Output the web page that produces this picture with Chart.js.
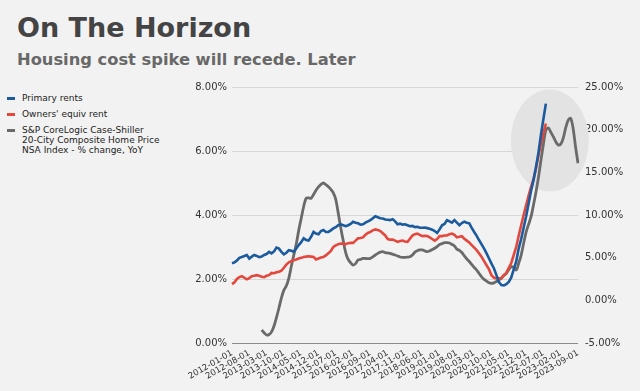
<!DOCTYPE html>
<html>
<head>
<meta charset="utf-8">
<script src="https://cdn.jsdelivr.net/npm/chart.js@4/dist/chart.umd.min.js"></script>
<style>
  html, body { margin: 0; padding: 0; background: #f2f2f2; }
  body { width: 640px; height: 391px; position: relative; overflow: hidden; font-family: 'DejaVu Sans', Verdana, sans-serif; }
  #title { position: absolute; left: 17px; top: 14px; font-size: 27px; line-height: 27px; font-weight: bold; color: #444; white-space: nowrap; }
  #subtitle { position: absolute; left: 17px; top: 52px; font-size: 16.3px; line-height: 16.3px; font-weight: bold; color: #686868; white-space: nowrap; }
  #legend { position: absolute; left: 0; top: 0; }
  .item { position: absolute; left: 22px; font-size: 9px; line-height: 10px; color: #222; white-space: nowrap; }
  .mark { position: absolute; left: 7px; width: 8px; height: 3px; }
  #myChart { position: absolute; left: 0; top: 0; }
</style>
</head>
<body>
<div id="title">On The Horizon</div>
<div id="subtitle">Housing cost spike will recede. Later</div>
<div id="legend"></div>
<canvas id="myChart" width="640" height="391"></canvas>
<script>
// Tháng: 2012-01 .. 2023-09
const months = [];
for (let y = 2012; y <= 2023; y++) {
    for (let m = 1; m <= 12; m++) {
        if (y === 2023 && m > 9) break;
        months.push(y + '-' + String(m).padStart(2, '0') + '-01');
    }
}

// Primary rents (trục trái, %), 2012-01 .. 2022-08
const primaryRents = [
    2.49, 2.52, 2.58, 2.66, 2.69, 2.72, 2.75, 2.64, 2.70, 2.75, 2.72, 2.68,
    2.70, 2.75, 2.78, 2.85, 2.80, 2.86, 2.98, 2.95, 2.85, 2.77, 2.82, 2.90,
    2.88, 2.85, 2.95, 3.06, 3.15, 3.27, 3.22, 3.20, 3.32, 3.47, 3.42, 3.40,
    3.50, 3.53, 3.47, 3.47, 3.52, 3.58, 3.62, 3.68, 3.71, 3.68, 3.65, 3.68,
    3.72, 3.79, 3.76, 3.74, 3.70, 3.71, 3.76, 3.80, 3.84, 3.90, 3.96, 3.93,
    3.90, 3.89, 3.86, 3.85, 3.84, 3.87, 3.80, 3.71, 3.73, 3.70, 3.71, 3.68,
    3.65, 3.66, 3.62, 3.63, 3.60, 3.60, 3.61, 3.59, 3.57, 3.54, 3.50, 3.44,
    3.55, 3.68, 3.72, 3.84, 3.80, 3.76, 3.84, 3.76, 3.68, 3.75, 3.79, 3.76,
    3.74, 3.60, 3.47, 3.35, 3.21, 3.08, 2.95, 2.80, 2.64, 2.48, 2.33, 2.12,
    1.90, 1.81, 1.80, 1.84, 1.91, 2.05, 2.30, 2.55, 2.95, 3.25, 3.60, 3.95,
    4.35, 4.75, 5.09, 5.50, 5.95, 6.50, 7.00, 7.48
];

// Owners' equiv rent (trục trái, %)
const ownersRent = [
    1.84, 1.90, 2.00, 2.06, 2.09, 2.04, 1.99, 2.03, 2.09, 2.10, 2.12, 2.10,
    2.07, 2.06, 2.10, 2.12, 2.19, 2.18, 2.21, 2.23, 2.26, 2.35, 2.45, 2.52,
    2.56, 2.59, 2.61, 2.64, 2.66, 2.69, 2.70, 2.71, 2.70, 2.69, 2.61, 2.64,
    2.67, 2.69, 2.74, 2.80, 2.88, 3.00, 3.05, 3.09, 3.11, 3.10, 3.09, 3.12,
    3.13, 3.13, 3.20, 3.27, 3.28, 3.30, 3.38, 3.44, 3.47, 3.52, 3.55, 3.53,
    3.50, 3.43, 3.36, 3.25, 3.23, 3.23, 3.20, 3.16, 3.19, 3.20, 3.17, 3.16,
    3.26, 3.36, 3.40, 3.42, 3.38, 3.34, 3.35, 3.34, 3.30, 3.25, 3.20, 3.25,
    3.34, 3.34, 3.36, 3.36, 3.40, 3.42, 3.38, 3.30, 3.32, 3.34, 3.26, 3.20,
    3.14, 3.06, 2.98, 2.90, 2.80, 2.69, 2.56, 2.43, 2.30, 2.12, 2.04, 2.02,
    2.02, 2.03, 2.12, 2.19, 2.35, 2.50, 2.75, 3.00, 3.35, 3.68, 4.00, 4.30,
    4.60, 4.88, 5.12, 5.45, 5.85, 6.23, 6.55, 6.86
];

// Case-Shiller YoY (trục phải, %), bắt đầu từ 2013-01
const caseShillerStart = 12;
const caseShiller = [
    -3.48, -3.80, -4.06, -4.00, -3.70, -3.00, -2.00, -0.90, 0.30, 1.20, 1.70, 2.60,
    4.00, 5.30, 6.60, 8.20, 9.60, 11.00, 11.96, 12.00, 11.95, 12.40, 12.90, 13.30,
    13.60, 13.75, 13.55, 13.30, 13.00, 12.60, 11.80, 10.20, 8.50, 7.00, 5.60, 4.80,
    4.40, 4.14, 4.30, 4.73, 4.80, 4.92, 4.90, 4.88, 4.92, 5.10, 5.31, 5.50,
    5.65, 5.70, 5.60, 5.55, 5.50, 5.40, 5.31, 5.20, 5.08, 5.04, 5.04, 5.06,
    5.10, 5.30, 5.65, 5.82, 5.90, 5.90, 5.80, 5.70, 5.80, 5.95, 6.10, 6.30,
    6.55, 6.65, 6.75, 6.77, 6.72, 6.55, 6.38, 6.00, 5.85, 5.60, 5.20, 4.85,
    4.55, 4.20, 3.85, 3.55, 3.15, 2.75, 2.46, 2.25, 2.05, 1.99, 2.05, 2.20,
    2.40, 2.58, 2.90, 3.17, 3.60, 3.95, 3.85, 3.55, 4.34, 5.30, 6.68, 8.00,
    8.90, 9.80, 11.20, 12.70, 14.40, 16.40, 18.30, 19.96, 20.20, 19.70, 19.18, 18.60,
    18.20, 18.30, 18.98, 20.20, 21.10, 21.33, 20.20, 18.00, 16.06
];

const seriesNames = [
    'Primary rents',
    "Owners' equiv rent",
    'S&P CoreLogic Case-Shiller\n20-City Composite Home Price\nNSA Index - % change, YoY'
];
const seriesColors = ['#1b5a9c', '#e4473b', '#6a6a6a'];
const xTickEvery = 7;

// Vùng tô hình elip (đơn vị dữ liệu: tháng, % trục trái)
const highlight = { x: 128.6, y: 6.33, rx: 15.8, ry: 1.59 };

const csData = new Array(caseShillerStart).fill(null).concat(caseShiller);

// Chú thích bên trái
const legendEl = document.getElementById('legend');
const legendTops = [93, 109, 125];
seriesNames.forEach((name, i) => {
    const mk = document.createElement('div');
    mk.className = 'mark';
    mk.style.background = seriesColors[i];
    mk.style.top = (legendTops[i] + 4) + 'px';
    legendEl.appendChild(mk);
    const tx = document.createElement('div');
    tx.className = 'item';
    tx.style.top = legendTops[i] + 'px';
    tx.innerHTML = name.replace(/&/g, '&amp;').split('\n').join('<br>');
    legendEl.appendChild(tx);
});

const ellipsePlugin = {
    id: 'ellipse',
    beforeDatasetsDraw(chart) {
        const x = chart.scales.x, y = chart.scales.y;
        const cx = x.getPixelForValue(highlight.x);
        const cy = y.getPixelForValue(highlight.y);
        const rx = x.getPixelForValue(highlight.x + highlight.rx) - cx;
        const ry = cy - y.getPixelForValue(highlight.y + highlight.ry);
        const ctx = chart.ctx;
        ctx.save();
        ctx.beginPath();
        ctx.ellipse(cx, cy, rx, ry, 0, 0, Math.PI * 2);
        ctx.fillStyle = '#e3e3e3';
        ctx.fill();
        ctx.restore();
    }
};

Chart.defaults.font.family = "'DejaVu Sans', Verdana, sans-serif";
Chart.defaults.color = '#333';

const myChart = new Chart(document.getElementById('myChart').getContext('2d'), {
    type: 'line',
    data: {
        labels: months,
        datasets: [
            { label: seriesNames[0], data: primaryRents, yAxisID: 'y', borderColor: seriesColors[0], borderWidth: 2.6, pointRadius: 0, tension: 0 },
            { label: seriesNames[1], data: ownersRent, yAxisID: 'y', borderColor: seriesColors[1], borderWidth: 2.6, pointRadius: 0, tension: 0 },
            { label: seriesNames[2], data: csData, yAxisID: 'y2', borderColor: seriesColors[2], borderWidth: 2.8, pointRadius: 0, tension: 0.3 }
        ]
    },
    options: {
        responsive: false,
        animation: false,
        layout: { padding: { left: 172, top: 87, right: 12, bottom: 0 } },
        plugins: {
            legend: { display: false },
            tooltip: { enabled: false }
        },
        scales: {
            x: {
                grid: { display: false, drawTicks: false },
                border: { display: false },
                ticks: {
                    autoSkip: false,
                    minRotation: 30,
                    maxRotation: 30,
                    padding: 5,
                    font: { size: 8.5 },
                    callback: (v, i) => (i % xTickEvery === 0 ? months[i] : '')
                },
                afterFit: s => { s.height = 48; }
            },
            y: {
                position: 'left',
                min: 0, max: 8,
                ticks: { stepSize: 2, padding: 5, font: { size: 10 }, callback: v => v.toFixed(2) + '%' },
                grid: { drawTicks: false, color: c => (c.tick.value === 0 ? '#8a8a8a' : '#d6d6d6'), lineWidth: 1 },
                border: { display: false },
                afterFit: s => { s.width = 60; }
            },
            y2: {
                position: 'right',
                min: -5, max: 25,
                ticks: { stepSize: 5, padding: 7, font: { size: 10 }, callback: v => v.toFixed(2) + '%' },
                grid: { display: false, drawTicks: false },
                border: { display: false },
                afterFit: s => { s.width = 50; }
            }
        }
    },
    plugins: [ellipsePlugin]
});
</script>
</body>
</html>
